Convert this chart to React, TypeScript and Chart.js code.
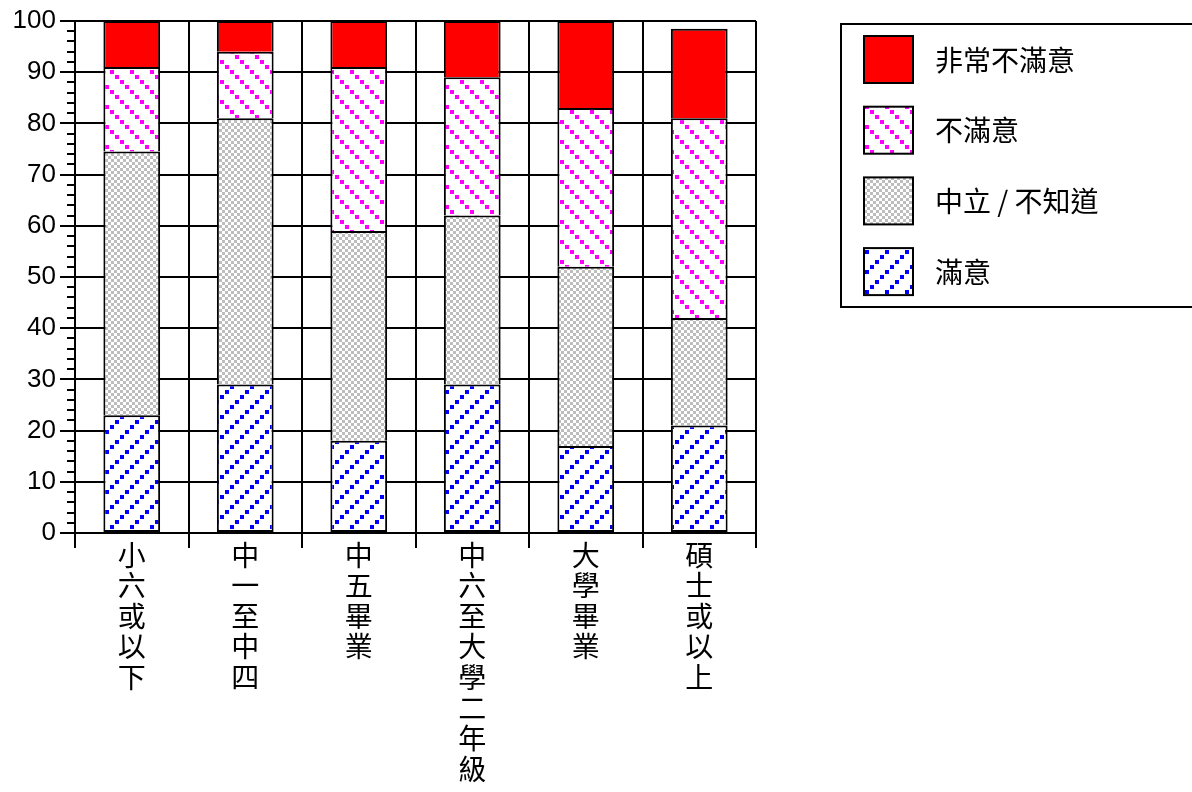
import React, { useEffect, useRef } from 'react';
import { Chart, registerables } from 'chart.js';

Chart.register(...registerables);

// ---- data ----
const categoryNames = ['小六或以下', '中一至中四', '中五畢業', '中六至大學二年級', '大學畢業', '碩士或以上'];
const seriesNames = ['滿意', '中立 / 不知道', '不滿意', '非常不滿意'];
const satisfied = [23, 29, 18, 29, 17, 21];
const neutral = [51.5, 52, 41, 33, 35, 21];
const dissatisfied = [16.5, 13, 32, 27, 31, 39];
const veryDissatisfied = [9, 6, 9, 11, 17, 17.5];
const yMin = 0;
const yMax = 100;
const yStep = 10;
const yMinorStep = 2;

function makeDotPattern(color: string, slash: boolean): CanvasPattern | string {
  const T = 20;
  const c = document.createElement('canvas');
  c.width = T;
  c.height = T;
  const g = c.getContext('2d');
  if (!g) return color;
  g.fillStyle = '#ffffff';
  g.fillRect(0, 0, T, T);
  g.fillStyle = color;
  for (let i = 0; i < 4; i++) {
    const x = slash ? 15 - i * 5 : i * 5;
    const y = i * 5;
    g.fillRect(x, y, 4, 4);
  }
  return g.createPattern(c, 'repeat') || color;
}

function makeChecker(): CanvasPattern | string {
  const c = document.createElement('canvas');
  c.width = 6;
  c.height = 6;
  const g = c.getContext('2d');
  if (!g) return '#cccccc';
  g.fillStyle = '#ffffff';
  g.fillRect(0, 0, 6, 6);
  g.fillStyle = '#bdbdbd';
  g.fillRect(0, 0, 3, 3);
  g.fillRect(3, 3, 3, 3);
  return g.createPattern(c, 'repeat') || '#cccccc';
}

export default function App() {
  const ref = useRef<HTMLCanvasElement | null>(null);

  useEffect(() => {
    const canvas = ref.current;
    if (!canvas) return;
    const blue = makeDotPattern('#0000ff', true);
    const grey = makeChecker();
    const magenta = makeDotPattern('#ff00ff', false);
    const red = '#ff0000';
    const fills = [blue, grey, magenta, red];
    const values = [satisfied, neutral, dissatisfied, veryDissatisfied];

    const legendPlugin = {
      id: 'boxLegend',
      afterDraw(chart: any) {
        const ctx = chart.ctx as CanvasRenderingContext2D;
        ctx.save();
        ctx.strokeStyle = '#000000';
        ctx.lineWidth = 2;
        ctx.strokeRect(841, 24, 360, 283);
        const order = [3, 2, 1, 0];
        order.forEach((di, i) => {
          const top = 36 + i * 70.7;
          ctx.fillStyle = fills[di] as any;
          ctx.fillRect(864, top, 49, 47);
          ctx.strokeStyle = '#000000';
          ctx.lineWidth = 2;
          ctx.strokeRect(864, top, 49, 47);
          ctx.fillStyle = '#000000';
          ctx.font = '28px "Noto Sans CJK TC"';
          ctx.textBaseline = 'middle';
          ctx.textAlign = 'left';
          ctx.fillText(seriesNames[di], 935, top + 24);
        });
        ctx.restore();
      },
    };

    const minorTickPlugin = {
      id: 'minorTicks',
      afterDraw(chart: any) {
        const ys = chart.scales.y;
        const ctx = chart.ctx as CanvasRenderingContext2D;
        ctx.save();
        ctx.strokeStyle = '#000000';
        ctx.lineWidth = 2;
        for (let v = yMin; v <= yMax; v += yMinorStep) {
          if (v % yStep === 0) continue;
          const p = Math.round(ys.getPixelForValue(v));
          ctx.beginPath();
          ctx.moveTo(ys.right - 8, p);
          ctx.lineTo(ys.right, p);
          ctx.stroke();
        }
        ctx.restore();
      },
    };

    const chart = new Chart(canvas, {
      type: 'bar',
      data: {
        labels: categoryNames.map((s) => s.split('')),
        datasets: values.map((d, i) => ({
          label: seriesNames[i],
          data: d,
          backgroundColor: fills[i] as any,
          borderColor: '#000000',
          borderWidth: { top: 2, left: 2, right: 2, bottom: i === 0 ? 2 : 0 },
          borderSkipped: false,
          barPercentage: 0.5,
          categoryPercentage: 1,
        })),
      },
      options: {
        responsive: false,
        animation: false,
        layout: { padding: { top: 21, right: 436, bottom: 0, left: 0 } },
        plugins: {
          legend: { display: false },
          tooltip: { enabled: false },
        },
        scales: {
          x: {
            stacked: true,
            grid: {
              color: '#000000',
              lineWidth: 2,
              tickColor: '#000000',
              tickWidth: 2,
              tickLength: 15,
              offset: true,
            },
            border: { color: '#000000', width: 2 },
            ticks: {
              color: '#000000',
              padding: -8,
              maxRotation: 0,
              minRotation: 0,
              autoSkip: false,
              font: { family: '"Noto Sans CJK TC"', size: 28, lineHeight: 1.09 },
            },
            afterFit(scale: any) {
              scale.height = 259;
            },
          },
          y: {
            stacked: true,
            min: yMin,
            max: yMax,
            grid: {
              color: '#000000',
              lineWidth: 2,
              tickColor: '#000000',
              tickWidth: 2,
              tickLength: 15,
            },
            border: { color: '#000000', width: 2 },
            ticks: {
              stepSize: yStep,
              color: '#000000',
              padding: 4,
              font: { family: '"Liberation Sans", Arial', size: 26 },
            },
            afterFit(scale: any) {
              scale.width = 75;
            },
          },
        },
      },
      plugins: [minorTickPlugin, legendPlugin],
    } as any);

    return () => chart.destroy();
  }, []);

  return (
    <div style={{ position: 'absolute', left: 0, top: 0, width: 1192, height: 792, background: '#ffffff' }}>
      <canvas ref={ref} width={1192} height={792} style={{ display: 'block' }} />
    </div>
  );
}
